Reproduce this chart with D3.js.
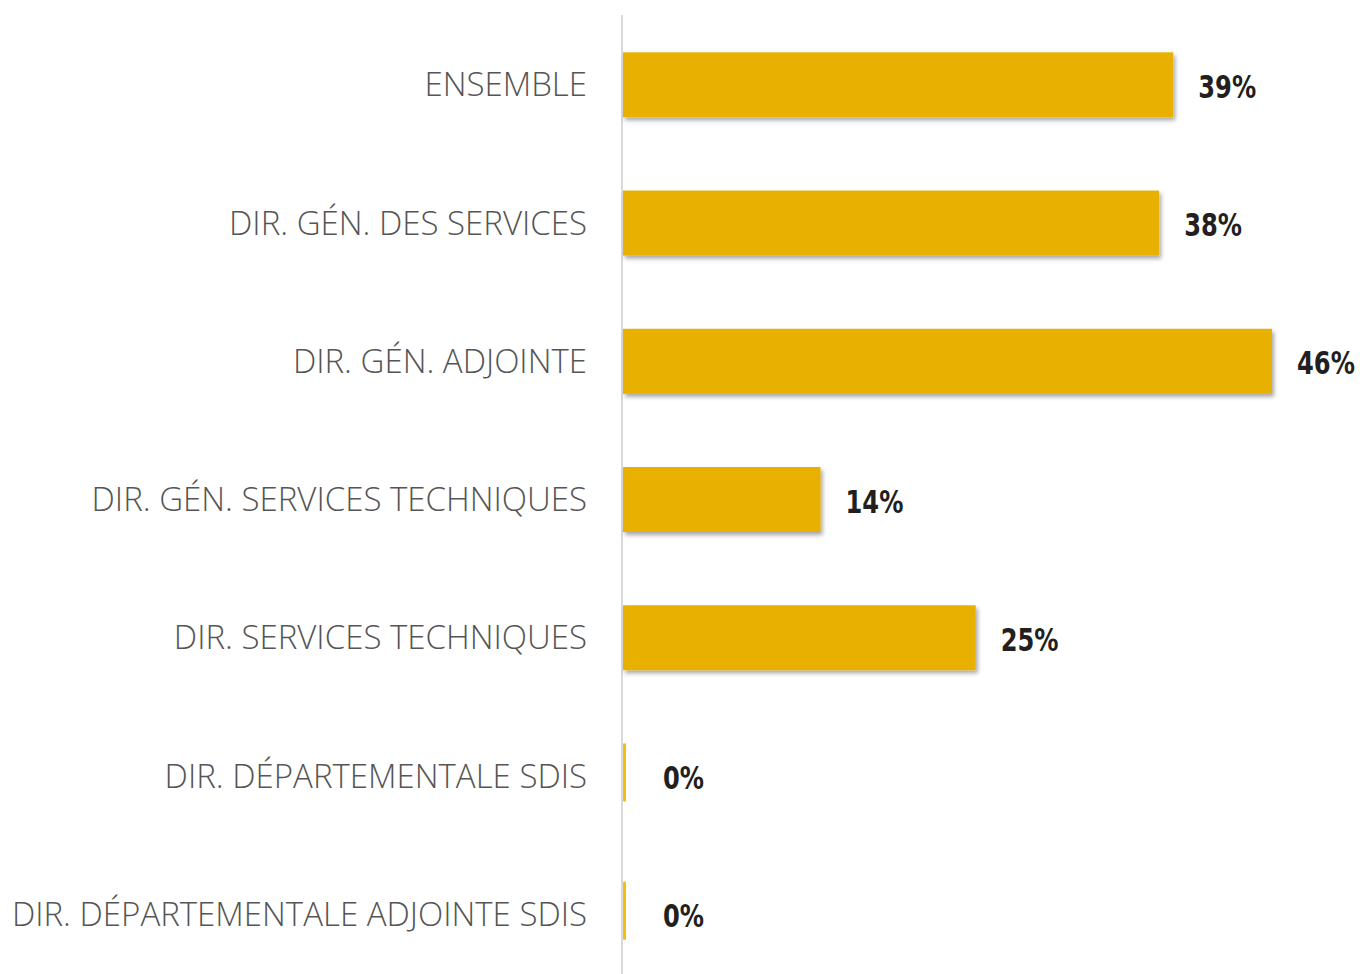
<!DOCTYPE html>
<html>
<head>
<meta charset="utf-8">
<script src="https://cdn.jsdelivr.net/npm/d3@7"></script>
<style>
  html, body { margin: 0; padding: 0; background: #fff; }
  svg { display: block; }
</style>
</head>
<body>
<script>
const categories = [
  "ENSEMBLE",
  "DIR. GÉN. DES SERVICES",
  "DIR. GÉN. ADJOINTE",
  "DIR. GÉN. SERVICES TECHNIQUES",
  "DIR. SERVICES TECHNIQUES",
  "DIR. DÉPARTEMENTALE SDIS",
  "DIR. DÉPARTEMENTALE ADJOINTE SDIS"
];
const values = [39, 38, 46, 14, 25, 0, 0];
const valueLabels = ["39%", "38%", "46%", "14%", "25%", "0%", "0%"];

const width = 1360, height = 974;
const x0 = 623;

const svg = d3.select("body").append("svg")
  .attr("width", width)
  .attr("height", height);

const defs = svg.append("defs");
const f = defs.append("filter").attr("id", "shadow")
  .attr("x", "-5%").attr("y", "-20%").attr("width", "115%").attr("height", "150%");
f.append("feDropShadow")
  .attr("dx", 2).attr("dy", 3).attr("stdDeviation", 2)
  .attr("flood-color", "#000").attr("flood-opacity", 0.35);

const x = d3.scaleLinear().domain([0, 46]).range([x0, 1272]);
const y = d3.scaleBand().domain(categories).range([15, 984]).paddingInner(0.53).paddingOuter(0.27);

// axis line
svg.append("line")
  .attr("x1", 622).attr("x2", 622)
  .attr("y1", 15).attr("y2", height)
  .attr("stroke", "#d9d9d9").attr("stroke-width", 2);

const rows = svg.selectAll("g.row")
  .data(categories.map((c, i) => ({ c, v: values[i], l: valueLabels[i] })))
  .join("g").attr("class", "row");

rows.append("rect")
  .attr("x", x0)
  .attr("y", d => y(d.c))
  .attr("width", d => Math.max(3, x(d.v) - x0))
  .attr("height", d => d.v > 0 ? y.bandwidth() : y.bandwidth() - 7)
  .attr("fill", d => d.v > 0 ? "#e8b000" : "#f2be10")
  .attr("filter", d => d.v > 0 ? "url(#shadow)" : null);

rows.append("text")
  .attr("x", 587)
  .attr("y", d => y(d.c) + y.bandwidth() / 2)
  .attr("dy", "0.35em")
  .attr("text-anchor", "end")
  .attr("font-family", "'Open Sans', sans-serif")
  .attr("font-weight", 300)
  .attr("font-size", 33)
  .attr("fill", "#555")
  .text(d => d.c);

rows.append("text")
  .attr("transform", d => `translate(${Math.max(x(d.v) + 25, 663)},${y(d.c) + y.bandwidth() / 2 + 2}) scale(0.84,1)`)
  .attr("dy", "0.35em")
  .attr("font-family", "'DejaVu Sans Condensed', sans-serif")
  .attr("font-weight", "bold")
  .attr("font-size", 32)
  .attr("fill", "#231f20")
  .text(d => d.l);
</script>
</body>
</html>
